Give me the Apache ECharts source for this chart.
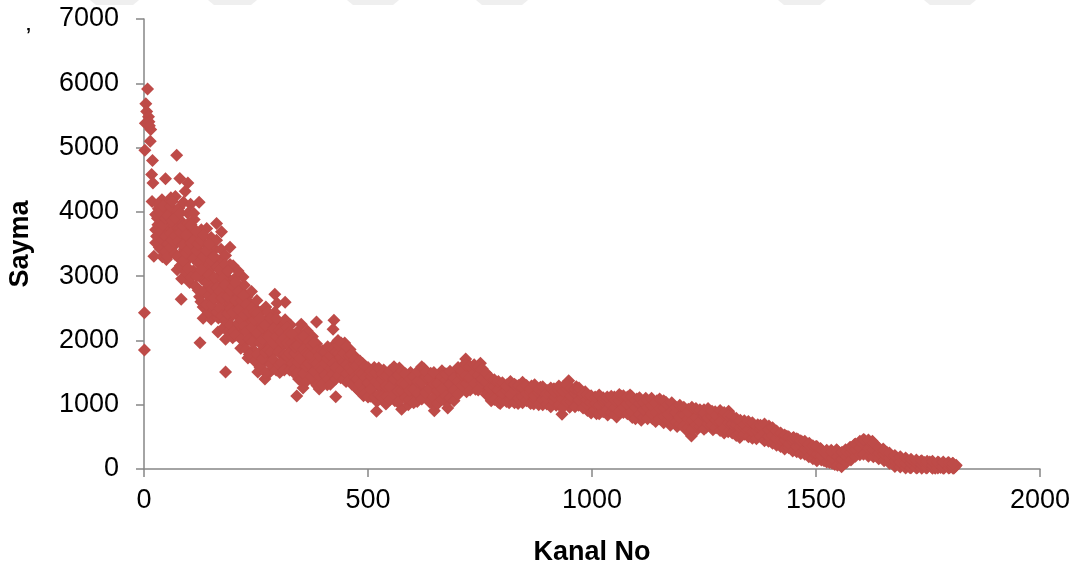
<!DOCTYPE html>
<html><head><meta charset="utf-8">
<script src="https://cdn.jsdelivr.net/npm/echarts@6/dist/echarts.min.js"></script>
<style>html,body{margin:0;padding:0;background:#fff}#c{width:1078px;height:569px}</style>
</head><body><div id="c"></div>
<script>
const xLabel = "Kanal No";
const yLabel = "Sayma";
const outliers = [[8,5910],[4,5680],[6,5560],[10,5480],[3,5380],[11,5400],[15,5280],[12,5340],[14,5100],[2,4960],[19,4800],[73,4880],[17,4580],[20,4450],[48,4515],[80,4520],[98,4450],[123,4150],[18,4160],[192,3450],[173,3690],[162,3820],[221,2985],[199,3160],[22,3310],[1,2430],[1,1850],[83,2640],[125,1965],[182,1510],[292,2720],[315,2595],[297,2580],[385,2285],[424,2315],[422,2175],[341,1135],[428,1125],[519,900],[575,930],[648,905],[678,950],[718,1710],[751,1645],[948,1373],[933,850],[1222,513],[1557,36],[132,2345],[158,2445],[182,2020],[165,2130],[150,2330],[232,1725]];
const head = [[28,3620],[30,3900],[32,4050],[34,3450],[36,3750],[38,3580],[40,4190],[41,3300],[43,3880],[45,3640],[47,3980],[50,3260],[52,4120],[54,3720],[56,3530],[58,3840],[60,4220],[62,3400],[64,3640],[66,3960],[68,3780],[70,4240],[72,3510],[74,3100],[76,3700],[78,4060],[80,3320],[82,3860],[84,2960],[86,3600],[88,4150],[90,3420],[92,4320],[94,3760],[96,3240],[98,3980],[100,3560],[102,2900],[104,4120],[106,3340],[108,3700],[110,3080],[112,3880],[114,3480],[116,2840],[118,3250],[120,3620],[122,3020],[124,2680],[126,3380],[128,3720],[130,2950],[132,2520],[134,3180],[136,3500],[138,2780],[140,3740],[142,3060],[144,2440],[146,3320],[148,2660],[150,3600],[152,2880],[154,3150],[156,2480],[158,3420],[160,2740],[162,3560],[164,2980],[166,2350],[168,3240],[170,2620],[172,3420],[174,2860],[176,3060],[178,2200],[180,2500],[182,3320],[184,2760],[186,2980],[188,2140],[190,2600],[192,3180],[194,2860],[196,2380],[198,2040],[200,2720],[202,2960],[204,2500],[206,2240],[208,2820],[210,3080],[212,2640],[214,2360],[216,1880],[218,2760],[220,2140],[222,2520],[224,2860],[226,1980],[228,2420],[230,2680],[234,2280],[236,2580],[238,2060],[240,2760],[242,2360],[244,1850],[246,2180],[248,2500],[250,2000],[252,2620],[254,1510],[256,2280],[258,1800],[260,2440],[262,2080],[264,1640],[266,2300],[268,1900],[270,1400],[272,2520],[274,2120],[276,1700],[278,2360],[280,1500],[282,1960],[284,2240],[286,1780],[288,1560],[290,2100],[292,2440],[294,1880],[296,1640],[298,2280],[300,2020],[303,1500],[306,2200],[309,1760],[312,1930],[315,2320],[318,1580],[321,2080],[324,1680],[327,2240],[330,1860],[333,1510],[336,2000],[339,1700],[342,2130],[345,1400],[348,1830],[351,2250],[354,1600],[355,1260],[358,1960],[361,1720],[364,2150],[367,1480],[370,1880],[373,1620],[376,2060],[379,1360],[382,1760],[385,1950],[388,1530],[391,1245],[394,1820],[397,1660],[400,1420],[403,1750],[406,1560],[409,1310],[412,1860],[415,1640],[418,1480],[421,1360],[424,1760],[427,1950],[430,1560],[433,2000],[436,1680],[439,1420],[442,1850],[445,1580],[448,1960],[451,1360],[454,1720],[457,1500],[460,1860],[463,1640],[466,1430],[469,1760],[472,1300],[475,1550],[478,1660],[481,1210],[484,1430],[487,1590],[490,1140],[493,1350],[496,1520],[499,1250]];
const middle = [[505,1130],[510,1340],[514,1580],[520,1050],[525,1440],[530,1240],[535,1540],[540,1010],[545,1350],[550,1180],[555,1490],[560,1060],[565,1300],[570,1570],[575,1120],[580,1410],[585,1240],[590,1000],[595,1500],[600,1330],[605,1150],[610,1050],[615,1430],[620,1260],[625,1560],[630,1100],[635,1350],[640,1490],[645,1010],[650,1220],[655,1420],[660,1130],[665,1530],[670,1310],[675,1040],[680,1220],[685,1440],[690,1150],[695,1320],[700,1490],[705,1240],[710,1590],[715,1380],[720,1200],[725,1520],[730,1310],[735,1430],[740,1240],[745,1550],[750,1360],[755,1480],[760,1250],[765,1430],[770,1320],[775,1060],[780,1210],[785,1340],[790,1120],[795,1020],[800,1250],[805,1130],[810,1310],[815,1030],[820,1190],[825,1090],[830,1300],[835,1020],[840,1170],[845,1350],[850,1080],[855,1230],[860,1130],[865,1290],[870,1010],[875,1180],[880,1100],[885,1270],[890,1000],[895,1150],[900,1220],[905,1060],[910,1130],[915,1250],[920,990],[925,1100],[930,1170],[935,1280],[940,1040],[945,1160],[950,960],[955,1220],[960,1080],[965,1280],[970,990],[975,1130],[980,1060],[985,1200],[990,910],[995,1020],[1000,1100],[1005,980],[1010,860],[1015,1060],[1020,940],[1025,1110],[1030,1000],[1035,840],[1040,1050],[1045,930],[1050,1120],[1055,810],[1060,1000],[1065,1130],[1070,880],[1075,1040],[1080,960],[1085,1150],[1090,800],[1095,1020],[1100,1090],[1105,900],[1110,760],[1115,980],[1120,1100],[1125,850],[1130,1030],[1135,780],[1140,940],[1145,1060],[1150,860],[1155,990],[1160,720],[1165,1040],[1170,910],[1175,680],[1180,980],[1185,820],[1190,660],[1195,940],[1200,880],[1205,760],[1210,610],[1215,930],[1220,820],[1225,700],[1230,910],[1235,620],[1240,860],[1245,770],[1250,920],[1255,650],[1260,880],[1265,740],[1270,610],[1275,890],[1280,800],[1285,690],[1290,870],[1295,560],[1300,790],[1305,900],[1310,660],[1315,780],[1320,600],[1325,740],[1330,490],[1335,680],[1340,750],[1345,590],[1350,510],[1355,700],[1360,620],[1365,540],[1370,690],[1375,590],[1380,480],[1385,640],[1390,550],[1395,670],[1400,430],[1405,560],[1410,500],[1415,400],[1420,530],[1425,450],[1430,370],[1435,510],[1440,430],[1445,340],[1450,490],[1455,390],[1460,460],[1465,320],[1470,420],[1475,360],[1480,260],[1485,400],[1490,310],[1495,210],[1500,350]];
const tail = [[1503,280],[1506,170],[1510,320],[1514,230],[1518,130],[1522,270],[1526,180],[1530,100],[1534,290],[1538,210],[1542,70],[1546,300],[1550,150],[1553,250],[1556,90],[1560,200],[1563,120],[1566,300],[1570,150],[1573,240],[1576,340],[1580,200],[1583,290],[1586,380],[1590,240],[1593,320],[1597,400],[1600,270],[1604,350],[1608,450],[1611,300],[1615,400],[1619,240],[1622,340],[1626,430],[1630,260],[1634,360],[1638,190],[1642,300],[1646,240],[1650,310],[1654,180],[1658,260],[1662,120],[1666,220],[1670,150],[1674,70],[1678,190],[1682,110],[1686,60],[1690,170],[1694,100],[1698,40],[1702,150],[1706,80],[1710,20],[1714,130],[1718,60],[1722,110],[1726,20],[1730,70],[1734,120],[1738,40],[1742,100],[1746,15],[1750,70],[1754,110],[1758,30],[1762,90],[1766,12],[1770,60],[1774,100],[1778,25],[1782,80],[1786,14],[1790,60],[1794,95],[1798,20],[1802,50],[1805,90],[1808,15],[1811,40],[1813,60]];
// extra readings: channel followed by counts seen at that channel
const headRows = [[26,3720,3960,3520],[31,3610,3800,4120],[37,3420,3700,3990],[42,3560,3800,4090],[48,3380,3620,3900],[53,3300,3500,3940],[59,3440,3660,4080],[63,3560,3860,4160],[69,3340,3620,3900],[75,3300,3540,4020],[81,3160,3680,3980],[87,3240,3480,3780],[93,3060,3360,3640],[99,3120,3420,3820],[105,2980,3520,3800],[111,3280,3560,3980],[117,3000,3400,3700],[121,2780,3200,3500],[127,2600,3100,3560],[133,2760,3300,3640],[139,2560,2900,3400],[145,2700,3020,3500],[151,2560,2800,3240],[157,2660,2980,3300],[163,2440,2820,3140],[169,2500,2760,3100],[175,2380,2660,2960],[181,2300,2860,3180],[187,2420,2680,3080],[193,2240,2500,2780],[199,2140,2440,2840],[205,2080,2620,2900],[211,2260,2480,2760],[217,2020,2320,2620],[223,2220,2400,2700],[229,1860,2140,2560],[235,1780,2020,2440],[241,1980,2200,2500],[247,1680,2320,2440],[253,1780,2120,2420],[259,1580,1960,2340],[265,1720,2020,2200],[271,1500,1820,2240],[277,1860,2060,2440],[283,1620,1820,2340],[289,1700,1960,2180],[295,1540,2060,2340],[301,1620,1820,2160],[307,1660,1980,2120],[313,1540,1780,2040],[319,1760,1960,2200],[325,1540,1800,2120],[331,1640,1960,2100],[337,1560,1800,1900],[343,1500,1660,1920],[349,1380,1720,2040],[356,1480,1860,2060],[362,1360,1600,1800],[368,1640,1780,1980],[374,1440,1760,1920],[380,1520,1660,1960],[386,1300,1640,1840],[392,1440,1580,1760],[398,1320,1540,1840],[404,1460,1640,1820],[410,1400,1720,1900],[416,1320,1560,1760],[422,1480,1640,1860],[428,1400,1580,1820],[434,1460,1800,1920],[440,1540,1740,1960],[446,1400,1660,1800],[452,1480,1620,1900],[458,1380,1580,1760],[464,1320,1520,1780],[470,1420,1620,1700],[476,1240,1400,1620],[482,1320,1500,1680],[488,1220,1480,1640],[494,1180,1420,1600],[500,1120,1340,1580]];
const midRows = [[507,1240,1440,1520],[516,1120,1360,1500],[524,1160,1310,1570],[532,1120,1400,1480],[541,1130,1290,1460],[549,1080,1270,1530],[558,1160,1400,1590],[567,1040,1210,1460],[576,1210,1340,1520],[584,1110,1320,1480],[593,1080,1220,1400],[602,1030,1240,1440],[611,1170,1360,1520],[620,1090,1340,1590],[629,1190,1430,1510],[638,1040,1250,1420],[647,1120,1320,1500],[656,1020,1220,1330],[665,1080,1240,1440],[674,1140,1380,1480],[683,1110,1320,1520],[692,1060,1230,1420],[701,1160,1360,1580],[710,1300,1460,1520],[719,1330,1450,1620],[728,1230,1420,1600],[737,1330,1500,1620],[746,1230,1460,1590],[755,1340,1400,1560],[764,1160,1350,1490],[773,1130,1260,1420],[782,1080,1280,1390],[791,1040,1230,1360],[800,1060,1180,1340],[809,1050,1220,1290],[818,1080,1160,1360],[827,1030,1230,1320],[836,1100,1260,1300],[845,1030,1130,1270],[854,1060,1180,1300],[863,1020,1200,1250],[872,1090,1140,1310],[881,1000,1190,1240],[890,1080,1200,1280],[899,1010,1100,1180],[908,970,1180,1260],[917,1050,1120,1200],[926,1000,1220,1290],[935,960,1090,1210],[944,1040,1240,1310],[953,1050,1140,1260],[962,970,1180,1240],[971,1070,1210,1260],[980,950,1120,1170],[989,1010,1080,1160],[998,870,1040,1140],[1007,920,1020,1120],[1016,860,990,1150],[1025,890,1040,1090],[1034,920,1070,1120],[1043,880,990,1130],[1052,840,960,1070],[1061,900,1060,1160],[1070,960,1100,1140],[1079,860,1010,1120],[1088,900,1040,1130],[1097,780,960,1060],[1106,850,1020,1110],[1115,800,920,1040],[1124,780,960,1060],[1133,860,990,1100],[1142,740,880,1030],[1151,780,940,1090],[1160,820,950,1060],[1169,760,850,1000],[1178,720,900,1030],[1187,730,880,960],[1196,700,800,990],[1205,660,840,960],[1214,640,780,890],[1223,620,760,960],[1232,680,800,940],[1241,660,740,920],[1250,620,820,870],[1259,700,790,940],[1268,680,830,900],[1277,640,760,840],[1286,600,740,910],[1295,640,840,880],[1304,580,720,830],[1313,560,700,820],[1322,520,680,790],[1331,560,640,760],[1340,540,640,690],[1349,500,620,740],[1358,480,580,720],[1367,470,600,660],[1376,500,630,680],[1385,440,560,700],[1394,430,510,610],[1403,400,520,640],[1412,370,470,590],[1421,350,460,560],[1430,310,450,530],[1439,330,390,500],[1448,280,420,480],[1457,270,350,470],[1466,240,370,440],[1475,230,310,430],[1484,190,330,380],[1493,160,260,360],[1502,130,230,350]];
const tailRows = [[1512,140,210,300],[1524,110,220,290],[1536,90,170,270],[1548,60,190,280],[1558,50,150,260],[1568,100,200,270],[1578,140,260,330],[1588,200,300,390],[1598,220,330,430],[1606,230,390,460],[1617,200,320,450],[1628,190,300,410],[1640,160,250,330],[1652,130,230,290],[1664,90,170,250],[1676,40,130,210],[1688,30,110,190],[1700,15,90,170],[1712,20,90,150],[1724,15,80,140],[1736,10,70,130],[1748,20,90,120],[1760,10,60,120],[1772,15,80,110],[1784,10,50,110],[1796,15,70,100],[1806,10,40,85]];
const expand = rows => rows.flatMap(r => r.slice(1).map(v => [r[0], v]));

const chart = echarts.init(document.getElementById('c'), null, {renderer:'canvas'});
const axisGrey = '#868686';
const font = '"Liberation Sans", Arial, sans-serif';
const labelBase = {fontFamily:font,fontSize:27,color:'#000',showMinLabel:true,showMaxLabel:true,formatter:v=>String(v)};
function axis(extra){
  return Object.assign({
    type:'value', nameLocation:'middle',
    nameTextStyle:{fontFamily:font,fontSize:27,fontWeight:'bold',color:'#000'},
    axisLine:{show:true,onZero:false,lineStyle:{color:axisGrey,width:1.5}},
    axisTick:{show:true,inside:false,length:8,lineStyle:{color:axisGrey,width:1.5}},
    splitLine:{show:false}
  },extra);
}
const stripeEdges = [[90,139],[208,257],[347,399],[476,528],[778,826],[924,976]];
chart.setOption({
  animation:false,
  backgroundColor:'#fff',
  grid:{left:144,right:38,top:19,bottom:100,outerBoundsMode:'none'},
  xAxis:axis({min:0,max:2000,interval:500,name:xLabel,nameGap:70,axisLabel:Object.assign({margin:18},labelBase)}),
  yAxis:axis({min:0,max:7000,interval:1000,name:yLabel,nameGap:110,axisLabel:Object.assign({margin:25},labelBase)}),
  series:[{
    type:'scatter',symbol:'diamond',symbolSize:13,
    itemStyle:{color:'#BE4B48',opacity:1},
    data:[...outliers,...head,...middle,...tail,...expand(headRows),...expand(midRows),...expand(tailRows)]
  }],
  graphic:[
    {type:'text',left:26,top:27,style:{text:'’',font:'bold 18px "Liberation Sans"',fill:'#000'}},
    ...stripeEdges.map(e=>({type:'polygon',silent:true,z:-1,shape:{points:[[e[0],0],[e[1],0],[e[1]-6,5],[e[0]+6,5]]},style:{fill:'#efefef'}}))
  ]
});
</script></body></html>
